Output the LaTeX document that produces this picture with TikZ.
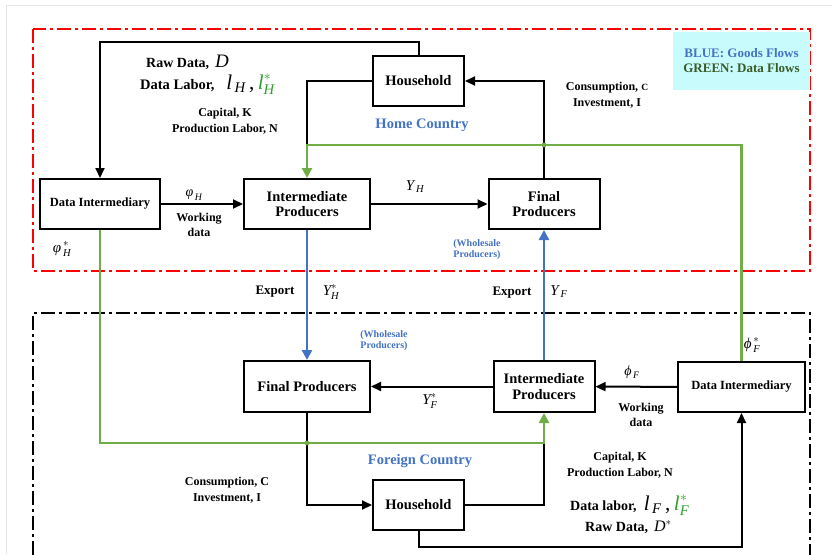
\documentclass[tikz,border=0pt]{standalone}
\usepackage{amsmath}
\usepackage{fontspec}
\setmainfont{Liberation Serif}
\usetikzlibrary{arrows.meta}
\definecolor{gblue}{HTML}{4472C4}
\definecolor{ggreen}{HTML}{70AD47}
\definecolor{lgreen}{HTML}{2E9E2E}
\definecolor{dgreen}{HTML}{3A5A28}
\definecolor{legfill}{HTML}{C8FCFC}
\newcommand{\mi}[1]{\textit{#1}}
\newcommand{\fs}[1]{\fontsize{#1}{#1}\selectfont}
\tikzset{
  box/.style={draw, line width=2pt, align=center, inner sep=0pt, font=\bfseries\fs{14.5}},
  conn/.style={line width=2pt, line join=miter},
  arr/.style={conn, -{Triangle[length=10pt,width=9pt]}},
  gconn/.style={line width=2.8pt, ggreen},
  garr/.style={gconn, -{Triangle[length=10pt,width=10pt]}},
  barr/.style={line width=2.8pt, gblue, -{Triangle[length=10pt,width=10pt]}},
  lab/.style={font=\bfseries\fs{12}, align=center, inner sep=0pt},
  blab/.style={font=\bfseries\fs{10}, text=gblue, align=center, inner sep=0pt},
  region/.style={line width=2.2pt, dash pattern=on 14pt off 4pt on 3pt off 4pt},
}
\begin{document}
\begin{tikzpicture}[x=1pt,y=-1pt]
\useasboundingbox (0,0) rectangle (832,554);
\draw[gray!20, line width=1pt] (6,554) -- (6,5) -- (832,5);
% regions
\draw[region, red] (33,29) rectangle (810,271);
\draw[region, black] (33,580) -- (33,313) -- (810,313) -- (810,580);
% legend
\node[fill=legfill, minimum width=137pt, minimum height=58pt, inner sep=0pt, align=center,
      font=\bfseries\fs{13}] (leg) at (741.5,61)
  {\textcolor{gblue}{BLUE: Goods Flows}\\[2pt]\textcolor{dgreen}{GREEN: Data Flows}};
% boxes
\node[box, minimum width=91pt, minimum height=50pt] (hh) at (418.5,81) {Household};
\node[box, minimum width=120pt, minimum height=50pt, font=\bfseries\fs{12.5}] (dih) at (100,204) {Data Intermediary};
\node[box, minimum width=126pt, minimum height=50pt] (iph) at (307,204) {Intermediate\\[1pt]Producers};
\node[box, minimum width=111pt, minimum height=50pt] (fh) at (544,204) {Final\\[1pt]Producers};
\node[box, minimum width=126pt, minimum height=51pt] (ff) at (307,386.5) {Final Producers};
\node[box, minimum width=101pt, minimum height=51pt] (ipf) at (544,386.5) {Intermediate\\[1pt]Producers};
\node[box, minimum width=127pt, minimum height=50pt, font=\bfseries\fs{12.5}] (dif) at (741.5,387) {Data Intermediary};
\node[box, minimum width=91pt, minimum height=50pt] (hf) at (418.5,505) {Household};
\coordinate (gH) at (307,145);
\coordinate (gF) at (307,443);
% black connectors
\draw[arr] (hh.north) -- ++(0,-13) -| (dih.north);
\draw[conn] (hh.west) -| (gH);
\draw[arr] (fh.north) |- (hh.east);
\draw[arr] (dih) -- (iph);
\draw[arr] (iph) -- (fh);
\draw[arr] (ipf) -- (ff);
\draw[arr] (dif) -- (ipf);
\draw[arr] (ff.south) |- (hf.west);
\draw[conn] (hf.east) -| (ipf.south |- gF);
\draw[arr] (hf.south) -- ++(0,16) -| (dif.south);
% green connectors
\draw[garr] (dif.north) -- (dif.north |- gH) -- (gH) -- (iph.north);
\draw[garr] (dih.south) -- (dih.south |- gF) -- (ipf.south |- gF) -- (ipf.south);
\fill[ggreen] (fh.north |- gH) circle (2.4pt);
\fill[ggreen] (gF) circle (2.4pt);
% blue connectors
\draw[barr] (iph.south) -- (ff.north);
\draw[barr] (ipf.north) -- (fh.south);
% labels home
\node[lab, font=\bfseries\fs{14}, anchor=west] (rawh) at (146,62) {Raw Data,\, \fs{19}\mdseries$\mi{D}$};
\node[lab, font=\bfseries\fs{14.5}, anchor=west] (dlh) at (140,84) {Data Labor,\;\; \fs{21}\mdseries$\mi{l}_{\,\mi{H}}$\,,\,\textcolor{lgreen}{$\mi{l}^{*}_{\mi{H}}$}};
\node[lab, font=\bfseries\fs{12}] (capH) at (225,121) {Capital, K\\[4pt]Production Labor, N};
\node[lab, font=\bfseries\fs{14.5}, text=gblue] (homec) at (422,125) {Home Country};
\node[lab, font=\bfseries\fs{12}] (consH) at (607,95) {Consumption, {\fs{9.5}C}\\[4pt]Investment, I};
\node[lab, font=\fs{14}] (phiH) at (194,195) {$\mi{φ}_{\,\mi{H}}$};
\node[lab, font=\bfseries\fs{12}] (wdH) at (199,225) {Working\\[3pt]data};
\node[lab, font=\fs{15}] (yH) at (415,187) {$\mi{Y}_{\,\mi{H}}$};
\node[lab, font=\fs{15}] (phiHs) at (62,249) {$\mi{φ}^{\,*}_{\,\mi{H}}$};
\node[blab] (whH) at (477,250) {(Wholesale\\[1pt]Producers)};
\node[lab, font=\bfseries\fs{13}] (exH) at (275,292) {Export};
\node[lab, font=\fs{15}] (yHs) at (331,292) {$\mi{Y}^{*}_{\mi{H}}$};
\node[lab, font=\bfseries\fs{13}] (exF) at (512,293) {Export};
\node[lab, font=\fs{15}] (yF) at (559,292) {$\mi{Y}_{\,\mi{F}}$};
% labels foreign
\node[blab] (whF) at (384,341) {(Wholesale\\[1pt]Producers)};
\node[lab, font=\fs{15}] (phiFs) at (752,345) {$\mi{ϕ}^{\,*}_{\,\mi{F}}$};
\node[lab, font=\fs{14}] (phiF) at (632,372) {$\mi{ϕ}_{\,\mi{F}}$};
\node[lab, font=\bfseries\fs{12}] (wdF) at (641,415) {Working\\[3pt]data};
\node[lab, font=\fs{15}] (yFs) at (430,401) {$\mi{Y}^{*}_{\mi{F}}$};
\node[lab, font=\bfseries\fs{14.5}, text=gblue] (forc) at (420,461) {Foreign Country};
\node[lab, font=\bfseries\fs{12}] (consF) at (227,490) {Consumption, C\\[4pt]Investment, I};
\node[lab, font=\bfseries\fs{12}] (capF) at (620,465) {Capital, K\\[4pt]Production Labor, N};
\node[lab, font=\bfseries\fs{14}, anchor=west] (dlF) at (570,505) {Data labor,\; \fs{21}\mdseries$\mi{l}_{\,\mi{F}}$\,,\,\textcolor{lgreen}{$\mi{l}^{*}_{\mi{F}}$}};
\node[lab, font=\bfseries\fs{14}, anchor=west] (rawF) at (585,527) {Raw Data,\, \fs{16}\mdseries$\mi{D}^{*}$};
\end{tikzpicture}
\end{document}
